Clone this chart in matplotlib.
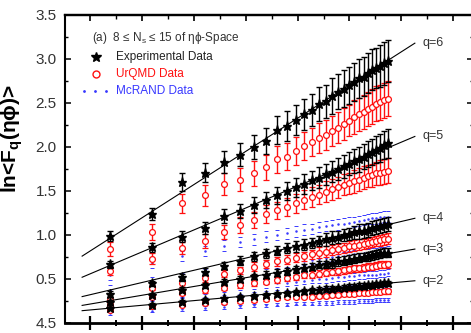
import numpy as np
import matplotlib.pyplot as plt
from matplotlib.lines import Line2D

plt.rcParams['font.family'] = ['Liberation Sans', 'DejaVu Sans']
plt.rcParams['mathtext.default'] = 'regular'

# multiplicity bins M = 2..29, plotted against ln(M^2)
M = list(range(2, 30))

# Experimental data
exp_q2 = [0.17, 0.21, 0.24, 0.26, 0.28, 0.30, 0.31, 0.32, 0.33, 0.34, 0.35, 0.36, 0.37, 0.38,
          0.39, 0.39, 0.40, 0.40, 0.41, 0.41, 0.42, 0.42, 0.43, 0.43, 0.44, 0.44, 0.45, 0.45]
exp_q3 = [0.24, 0.32, 0.38, 0.43, 0.47, 0.50, 0.53, 0.55, 0.57, 0.59, 0.61, 0.63, 0.64, 0.66,
          0.67, 0.68, 0.70, 0.71, 0.72, 0.73, 0.74, 0.75, 0.76, 0.77, 0.78, 0.79, 0.80, 0.80]
exp_q4 = [0.33, 0.45, 0.52, 0.58, 0.65, 0.71, 0.76, 0.79, 0.82, 0.85, 0.87, 0.89, 0.91, 0.93,
          0.95, 0.97, 0.98, 1.00, 1.01, 1.03, 1.04, 1.05, 1.06, 1.08, 1.09, 1.10, 1.11, 1.12]
exp_q5 = [0.67, 0.86, 0.98, 1.08, 1.22, 1.27, 1.34, 1.40, 1.45, 1.50, 1.54, 1.58, 1.62, 1.65,
          1.69, 1.72, 1.75, 1.78, 1.81, 1.84, 1.86, 1.89, 1.92, 1.94, 1.97, 1.99, 2.02, 2.04]
exp_q6 = [0.99, 1.24, 1.60, 1.71, 1.83, 1.91, 2.00, 2.07, 2.19, 2.24, 2.31, 2.37, 2.42, 2.49,
          2.52, 2.58, 2.63, 2.66, 2.70, 2.74, 2.78, 2.80, 2.84, 2.88, 2.90, 2.92, 2.95, 2.98]

exp_err_q2 = [0.015, 0.015, 0.02, 0.02, 0.02, 0.02, 0.02, 0.02, 0.02, 0.025, 0.025, 0.025, 0.025, 0.025,
              0.025, 0.025, 0.025, 0.03, 0.03, 0.03, 0.03, 0.03, 0.03, 0.03, 0.03, 0.03, 0.03, 0.03]
exp_err_q3 = [0.02, 0.02, 0.03, 0.03, 0.03, 0.03, 0.03, 0.04, 0.04, 0.04, 0.04, 0.04, 0.04, 0.04,
              0.04, 0.05, 0.05, 0.05, 0.05, 0.05, 0.05, 0.05, 0.05, 0.05, 0.05, 0.05, 0.05, 0.05]
exp_err_q4 = [0.03, 0.03, 0.04, 0.04, 0.04, 0.05, 0.05, 0.05, 0.05, 0.06, 0.06, 0.06, 0.06, 0.06,
              0.07, 0.07, 0.07, 0.07, 0.07, 0.07, 0.08, 0.08, 0.08, 0.08, 0.08, 0.08, 0.08, 0.08]
exp_err_q5 = [0.04, 0.05, 0.06, 0.07, 0.08, 0.08, 0.09, 0.09, 0.10, 0.10, 0.11, 0.11, 0.11, 0.12,
              0.12, 0.12, 0.13, 0.13, 0.13, 0.14, 0.14, 0.14, 0.15, 0.15, 0.15, 0.16, 0.16, 0.17]
exp_err_q6 = [0.06, 0.07, 0.10, 0.11, 0.12, 0.13, 0.14, 0.15, 0.16, 0.17, 0.17, 0.18, 0.18, 0.19,
              0.19, 0.20, 0.20, 0.21, 0.21, 0.22, 0.22, 0.22, 0.23, 0.23, 0.23, 0.24, 0.24, 0.24]

# UrQMD data
urq_q2 = [0.15, 0.19, 0.21, 0.23, 0.24, 0.25, 0.26, 0.27, 0.28, 0.29, 0.29, 0.30, 0.30, 0.31,
          0.31, 0.32, 0.32, 0.33, 0.33, 0.33, 0.34, 0.34, 0.34, 0.35, 0.35, 0.35, 0.36, 0.36]
urq_q3 = [0.20, 0.30, 0.34, 0.37, 0.40, 0.43, 0.45, 0.47, 0.49, 0.51, 0.52, 0.54, 0.55, 0.56,
          0.57, 0.58, 0.59, 0.60, 0.61, 0.62, 0.62, 0.63, 0.64, 0.64, 0.65, 0.66, 0.66, 0.67]
urq_q4 = [0.26, 0.40, 0.45, 0.51, 0.56, 0.60, 0.64, 0.67, 0.70, 0.72, 0.74, 0.76, 0.78, 0.80,
          0.81, 0.83, 0.84, 0.85, 0.87, 0.88, 0.89, 0.90, 0.91, 0.92, 0.93, 0.94, 0.95, 0.96]
urq_q5 = [0.59, 0.73, 0.85, 0.93, 1.03, 1.11, 1.17, 1.24, 1.28, 1.32, 1.36, 1.40, 1.43, 1.46,
          1.49, 1.52, 1.54, 1.57, 1.59, 1.61, 1.63, 1.65, 1.67, 1.68, 1.70, 1.71, 1.72, 1.73]
urq_q6 = [0.84, 1.03, 1.36, 1.45, 1.58, 1.63, 1.70, 1.77, 1.86, 1.89, 1.95, 2.01, 2.06, 2.10,
          2.14, 2.18, 2.22, 2.26, 2.30, 2.34, 2.37, 2.40, 2.43, 2.46, 2.49, 2.51, 2.53, 2.55]

urq_err_q2 = [0.015, 0.015, 0.015, 0.02, 0.02, 0.02, 0.02, 0.02, 0.02, 0.02, 0.02, 0.02, 0.025, 0.025,
              0.025, 0.025, 0.025, 0.025, 0.025, 0.025, 0.025, 0.025, 0.025, 0.025, 0.025, 0.025, 0.025, 0.025]
urq_err_q3 = [0.02, 0.02, 0.02, 0.03, 0.03, 0.03, 0.03, 0.03, 0.03, 0.03, 0.03, 0.03, 0.04, 0.04,
              0.04, 0.04, 0.04, 0.04, 0.04, 0.04, 0.04, 0.04, 0.04, 0.04, 0.04, 0.04, 0.04, 0.04]
urq_err_q4 = [0.03, 0.03, 0.04, 0.04, 0.04, 0.04, 0.05, 0.05, 0.05, 0.05, 0.05, 0.05, 0.05, 0.06,
              0.06, 0.06, 0.06, 0.06, 0.06, 0.06, 0.06, 0.06, 0.06, 0.06, 0.06, 0.06, 0.06, 0.06]
urq_err_q5 = [0.05, 0.06, 0.07, 0.08, 0.08, 0.09, 0.09, 0.10, 0.10, 0.10, 0.11, 0.11, 0.11, 0.11,
              0.12, 0.12, 0.12, 0.12, 0.12, 0.13, 0.13, 0.13, 0.13, 0.13, 0.13, 0.14, 0.14, 0.14]
urq_err_q6 = [0.08, 0.09, 0.11, 0.12, 0.12, 0.13, 0.14, 0.14, 0.15, 0.15, 0.16, 0.16, 0.16, 0.17,
              0.17, 0.17, 0.18, 0.18, 0.18, 0.19, 0.19, 0.19, 0.19, 0.20, 0.20, 0.20, 0.20, 0.20]

# McRAND data
mc_q2 = [0.11, 0.14, 0.16, 0.17, 0.18, 0.19, 0.20, 0.20, 0.21, 0.21, 0.22, 0.22, 0.22, 0.23,
         0.23, 0.23, 0.24, 0.24, 0.24, 0.24, 0.25, 0.25, 0.25, 0.25, 0.26, 0.26, 0.26, 0.26]
mc_q3 = [0.16, 0.22, 0.25, 0.27, 0.29, 0.30, 0.32, 0.33, 0.34, 0.35, 0.35, 0.36, 0.37, 0.37,
         0.38, 0.38, 0.39, 0.39, 0.40, 0.40, 0.40, 0.41, 0.41, 0.41, 0.42, 0.42, 0.42, 0.43]
mc_q4 = [0.24, 0.30, 0.34, 0.37, 0.39, 0.41, 0.43, 0.44, 0.45, 0.46, 0.47, 0.48, 0.49, 0.50,
         0.50, 0.51, 0.52, 0.52, 0.53, 0.53, 0.54, 0.54, 0.55, 0.55, 0.55, 0.56, 0.56, 0.57]
mc_q5 = [0.38, 0.47, 0.52, 0.56, 0.59, 0.62, 0.64, 0.66, 0.67, 0.69, 0.70, 0.71, 0.72, 0.73,
         0.74, 0.75, 0.76, 0.76, 0.77, 0.78, 0.78, 0.79, 0.79, 0.80, 0.80, 0.81, 0.81, 0.82]
mc_q6 = [0.55, 0.68, 0.76, 0.82, 0.88, 0.92, 0.95, 0.98, 1.00, 1.02, 1.04, 1.06, 1.07, 1.09,
         1.10, 1.11, 1.12, 1.13, 1.14, 1.15, 1.16, 1.17, 1.18, 1.19, 1.19, 1.20, 1.21, 1.21]
mc_err = [0.02, 0.03, 0.04, 0.05, 0.06]

# linear fits to the experimental points (end points)
fit_x = [0.85, 7.26]
fit_q2 = [0.14, 0.48]
fit_q3 = [0.20, 0.84]
fit_q4 = [0.30, 1.19]
fit_q5 = [0.52, 2.12]
fit_q6 = [0.76, 3.18]
q_labels = ['q=2', 'q=3', 'q=4', 'q=5', 'q=6']

y_ticks = [0.0, 0.5, 1.0, 1.5, 2.0, 2.5, 3.0, 3.5]
y_ticklabels = ['4.5', '0.5', '1.0', '1.5', '2.0', '2.5', '3.0', '3.5']

x = np.log(np.array(M) ** 2)

W, H = 471, 333
fig = plt.figure(figsize=(W / 100, H / 100), dpi=100)
ax = fig.add_axes([65 / W, 10 / H, 408 / W, 308 / H])

red = '#ff1010'
blue = '#3838ff'

exp_sets = [exp_q2, exp_q3, exp_q4, exp_q5, exp_q6]
exp_errs = [exp_err_q2, exp_err_q3, exp_err_q4, exp_err_q5, exp_err_q6]
urq_sets = [urq_q2, urq_q3, urq_q4, urq_q5, urq_q6]
urq_errs = [urq_err_q2, urq_err_q3, urq_err_q4, urq_err_q5, urq_err_q6]
mc_sets = [mc_q2, mc_q3, mc_q4, mc_q5, mc_q6]
fits = [fit_q2, fit_q3, fit_q4, fit_q5, fit_q6]

for i in range(5):
    # McRAND: small dots with short caps
    ax.errorbar(x, mc_sets[i], yerr=mc_err[i], fmt='.', ms=1.6, color=blue,
                elinewidth=0, capsize=1.2, capthick=0.7, zorder=2)
    # UrQMD: open red circles
    ax.errorbar(x, urq_sets[i], yerr=urq_errs[i], fmt='o', ms=4.2, mfc='white', mec=red,
                mew=0.9, ecolor=red, elinewidth=1.0, capsize=2.2, capthick=1.0, zorder=3)
    # fit line
    ax.plot(fit_x, fits[i], color='black', lw=0.8, zorder=4)
    # Experimental: black stars
    ax.errorbar(x, exp_sets[i], yerr=exp_errs[i], fmt='*', ms=6.5, color='black',
                elinewidth=1.0, capsize=2.2, capthick=1.0, zorder=5)
    ax.text(7.40, fits[i][1], q_labels[i], fontsize=9, color='#333333', va='center', ha='left')

ax.set_xlim(0.52, 8.38)
ax.set_ylim(0, 3.5)

ax.set_xticks(range(1, 9))
ax.set_xticks(np.arange(1.5, 8.4, 1.0), minor=True)
ax.set_yticks(y_ticks)
ax.set_yticklabels(y_ticklabels)
ax.set_yticks(np.arange(0.25, 3.5, 0.5), minor=True)

ax.tick_params(axis='x', which='major', direction='inout', length=10, width=1.6,
               labelbottom=False, top=False)
ax.tick_params(axis='x', which='minor', direction='inout', length=5, width=1.4, top=False)
ax.tick_params(axis='y', which='major', direction='in', length=4, width=1.1, right=True,
               labelsize=11, labelcolor='#333333', pad=6)
ax.tick_params(axis='y', which='minor', direction='in', length=2.5, width=1.0, right=True)

top = ax.secondary_xaxis('top')
top.set_xticks(range(1, 9))
top.set_xticks(np.arange(1.5, 8.4, 1.0), minor=True)
top.tick_params(which='major', direction='in', length=4, width=1.2, labeltop=False)
top.tick_params(which='minor', direction='in', length=3, width=1.0)
top.spines['top'].set_linewidth(1.6)

ax.spines['bottom'].set_linewidth(2.0)
ax.spines['left'].set_linewidth(1.5)
ax.spines['top'].set_linewidth(1.6)
ax.spines['right'].set_linewidth(1.5)

ax.set_ylabel(r'ln<F$_q$(ηϕ)>', fontsize=15, fontweight='bold')
ax.yaxis.set_label_coords(-0.097, 0.6)

# legend block
def fx(px):
    return px / W

def fy(py):
    return 1 - py / H

fig.text(fx(92), fy(38), '(a)  8 \u2264 N$_s$ \u2264 15 of ηϕ-Space', fontsize=8.5,
         color='#333333', va='center')
fig.add_artist(Line2D([fx(96)], [fy(57)], marker='*', ms=7.5, color='black', ls='none'))
fig.text(fx(116), fy(57), 'Experimental Data', fontsize=8.5, color='#222222', va='center')
fig.add_artist(Line2D([fx(96)], [fy(74)], marker='o', ms=5, mfc='white', mec=red, mew=1.0, ls='none'))
fig.text(fx(116), fy(74), 'UrQMD Data', fontsize=8.5, color=red, va='center')
fig.add_artist(Line2D([fx(84), fx(95), fx(106)], [fy(91)] * 3, marker='.', ms=2.0, color=blue, ls='none'))
fig.text(fx(116), fy(91), 'McRAND Data', fontsize=8.5, color=blue, va='center')

fig.savefig('out.png', dpi=100)
